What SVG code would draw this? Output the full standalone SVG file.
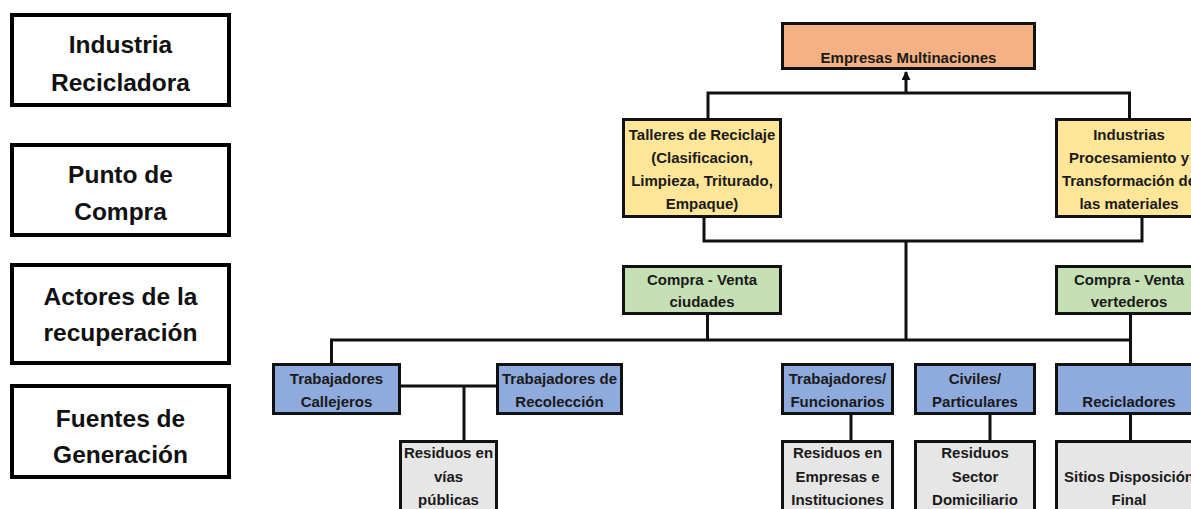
<svg xmlns="http://www.w3.org/2000/svg" width="1191" height="509" viewBox="0 0 1191 509">
  <style>
    .lvl rect { fill: #ffffff; stroke: #000; stroke-width: 4; }
    .lvl text { font-family: "Liberation Sans", Arial, sans-serif; font-weight: bold; font-size: 24.5px; fill: #111; text-anchor: middle; }
    .node rect { stroke: #111; stroke-width: 3; }
    .node text { font-family: "Liberation Sans", Arial, sans-serif; font-weight: bold; font-size: 15px; fill: #1a1a1a; text-anchor: middle; }
    .orange rect { fill: #F4B183; }
    .yellow rect { fill: #FFE699; }
    .green rect { fill: #C5E0B4; }
    .blue rect { fill: #8FAADC; }
    .grey rect { fill: #E7E6E6; }
    #connectors line, #connectors polyline { stroke: #111; stroke-width: 3; fill: none; }
  </style>
  <defs>
    <marker id="arrow" markerWidth="9" markerHeight="9" refX="8" refY="4.5" orient="auto" markerUnits="userSpaceOnUse">
      <path d="M0,0 L9,4.5 L0,9 Z" fill="#111"/>
    </marker>
  </defs>

  <rect width="1191" height="509" fill="#ffffff"/>

  <!-- level labels -->
  <g id="lvl-industria" class="lvl">
    <rect x="12" y="15" width="217" height="90"/>
    <text x="120.5" y="53">Industria</text>
    <text x="120.5" y="90.5">Recicladora</text>
  </g>
  <g id="lvl-punto" class="lvl">
    <rect x="12" y="145" width="217" height="90"/>
    <text x="120.5" y="183">Punto de</text>
    <text x="120.5" y="220">Compra</text>
  </g>
  <g id="lvl-actores" class="lvl">
    <rect x="12" y="265" width="217" height="98"/>
    <text x="120.5" y="304.5">Actores de la</text>
    <text x="120.5" y="341">recuperación</text>
  </g>
  <g id="lvl-fuentes" class="lvl">
    <rect x="12" y="386" width="217" height="91"/>
    <text x="120.5" y="426.5">Fuentes de</text>
    <text x="120.5" y="463">Generación</text>
  </g>

  <!-- connectors -->
  <g id="connectors">
    <!-- top bus feeding the multinationals -->
    <polyline points="708,118 708,93 1129.5,93 1129.5,118"/>
    <line x1="906" y1="93" x2="906" y2="72" marker-end="url(#arrow)"/>
    <!-- lower bus under the industry row -->
    <polyline points="704,218 704,241 1142,241 1142,218"/>
    <line x1="906" y1="241" x2="906" y2="340"/>
    <!-- buying/selling bus -->
    <line x1="707.5" y1="315" x2="707.5" y2="340"/>
    <line x1="1130.5" y1="315" x2="1130.5" y2="363"/>
    <polyline points="331.5,363 331.5,340 1130.5,340"/>
    <!-- street workers / collection -->
    <line x1="391" y1="386" x2="496" y2="386"/>
    <line x1="464" y1="386" x2="464" y2="440"/>
    <!-- actors to sources -->
    <line x1="851" y1="415" x2="851" y2="440"/>
    <line x1="990" y1="415" x2="990" y2="440"/>
    <line x1="1130.5" y1="415" x2="1130.5" y2="440"/>
  </g>

  <!-- industry level -->
  <g id="empresas" class="node orange">
    <rect x="782.5" y="23.5" width="252" height="45"/>
    <text x="908.5" y="63">Empresas Multinaciones</text>
  </g>

  <!-- purchase point level -->
  <g id="talleres" class="node yellow">
    <rect x="623.5" y="119.5" width="157" height="97"/>
    <text x="702" y="140">Talleres de Reciclaje</text>
    <text x="702" y="163">(Clasificacion,</text>
    <text x="702" y="186">Limpieza, Triturado,</text>
    <text x="702" y="209">Empaque)</text>
  </g>
  <g id="industrias" class="node yellow">
    <rect x="1056.5" y="119.5" width="145" height="97"/>
    <text x="1129" y="140">Industrias</text>
    <text x="1129" y="163">Procesamiento y</text>
    <text x="1129" y="186">Transformación de</text>
    <text x="1129" y="209">las materiales</text>
  </g>
  <g id="compra-ciudades" class="node green">
    <rect x="623.5" y="266.5" width="157" height="47"/>
    <text x="702" y="285">Compra - Venta</text>
    <text x="702" y="307">ciudades</text>
  </g>
  <g id="compra-vertederos" class="node green">
    <rect x="1056.5" y="266.5" width="145" height="47"/>
    <text x="1129" y="285">Compra - Venta</text>
    <text x="1129" y="307">vertederos</text>
  </g>

  <!-- recovery actors -->
  <g id="trab-callejeros" class="node blue">
    <rect x="273.5" y="364.5" width="126" height="49"/>
    <text x="336.5" y="383.5">Trabajadores</text>
    <text x="336.5" y="406.5">Callejeros</text>
  </g>
  <g id="trab-recoleccion" class="node blue">
    <rect x="497.5" y="364.5" width="124" height="49"/>
    <text x="559.5" y="383.5">Trabajadores de</text>
    <text x="559.5" y="406.5">Recolección</text>
  </g>
  <g id="trab-funcionarios" class="node blue">
    <rect x="782.5" y="364.5" width="110" height="49"/>
    <text x="837.5" y="383.5">Trabajadores/</text>
    <text x="837.5" y="406.5">Funcionarios</text>
  </g>
  <g id="civiles" class="node blue">
    <rect x="915.5" y="364.5" width="119" height="49"/>
    <text x="975" y="383.5">Civiles/</text>
    <text x="975" y="406.5">Particulares</text>
  </g>
  <g id="recicladores" class="node blue">
    <rect x="1056.5" y="364.5" width="145" height="49"/>
    <text x="1129" y="406.5">Recicladores</text>
  </g>

  <!-- generation sources -->
  <g id="residuos-vias" class="node grey">
    <rect x="400.5" y="441.5" width="96" height="80"/>
    <text x="448.5" y="458">Residuos en</text>
    <text x="448.5" y="481.5">vías</text>
    <text x="448.5" y="505">públicas</text>
  </g>
  <g id="residuos-empresas" class="node grey">
    <rect x="782.5" y="441.5" width="110" height="80"/>
    <text x="837.5" y="458">Residuos en</text>
    <text x="837.5" y="481.5">Empresas e</text>
    <text x="837.5" y="505">Instituciones</text>
  </g>
  <g id="residuos-domiciliario" class="node grey">
    <rect x="915.5" y="441.5" width="119" height="80"/>
    <text x="975" y="458">Residuos</text>
    <text x="975" y="481.5">Sector</text>
    <text x="975" y="505">Domiciliario</text>
  </g>
  <g id="sitios-disposicion" class="node grey">
    <rect x="1056.5" y="441.5" width="145" height="80"/>
    <text x="1129" y="481.5">Sitios Disposición</text>
    <text x="1129" y="505">Final</text>
  </g>
</svg>
